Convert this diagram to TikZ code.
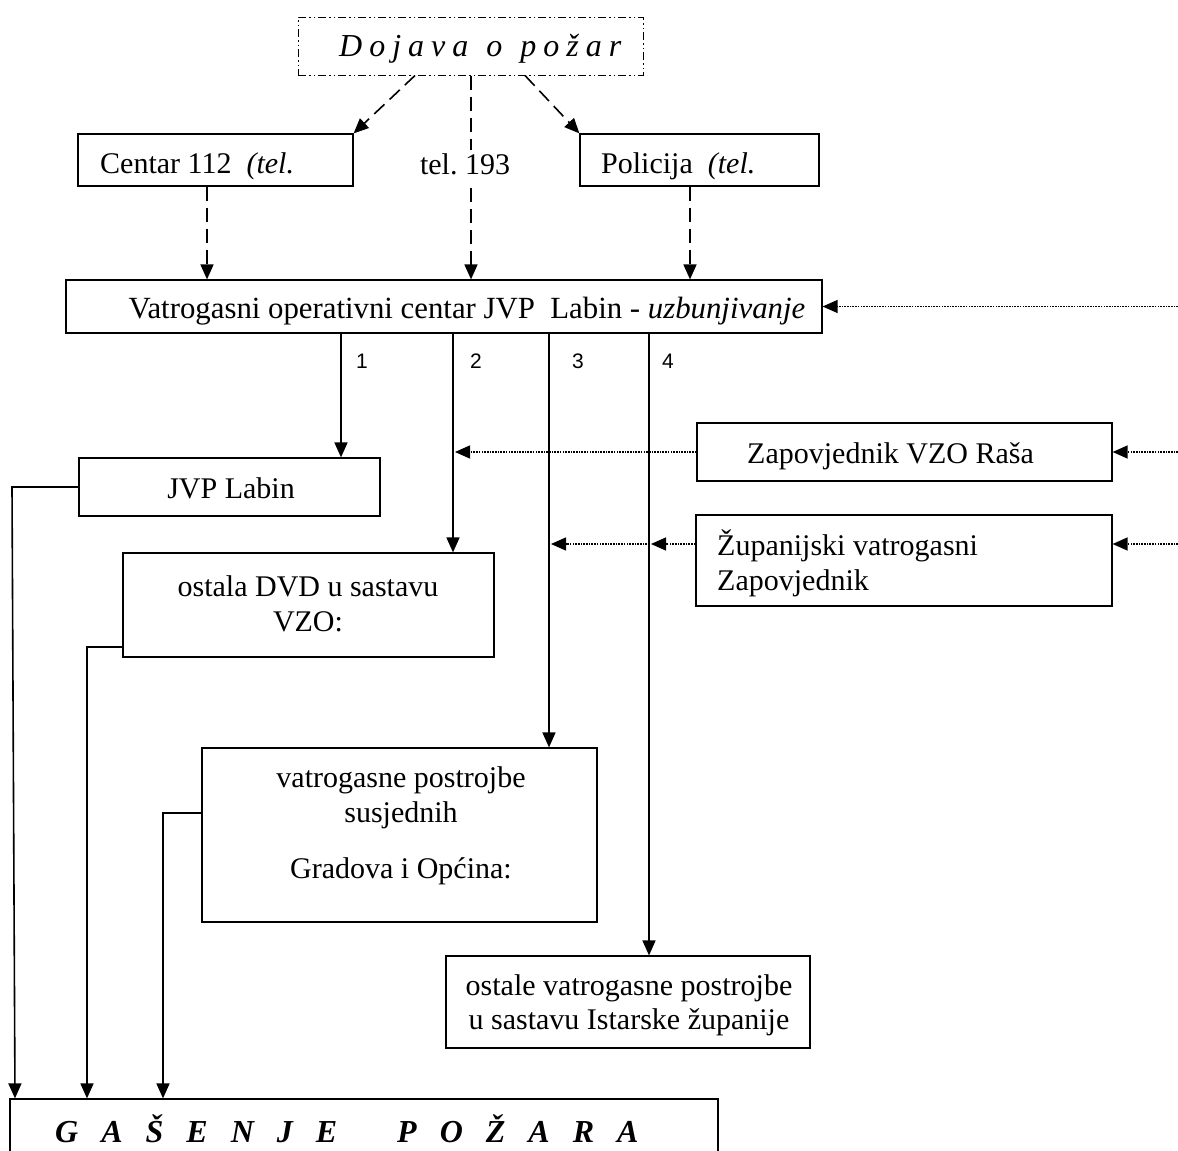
\documentclass[tikz,border=0pt]{standalone}
\usepackage{fontspec}
\setmainfont{Liberation Serif}
\newfontfamily\arialf{Liberation Sans}
\usetikzlibrary{arrows.meta}
\newcommand\gsp{\hspace{23pt}}
\newcommand\dsp{\hspace{7pt}}
\frenchspacing
\begin{document}
\begin{tikzpicture}[x=1pt,y=-1pt,
  box/.style={draw, line width=1.2pt, inner sep=0pt},
  tx/.style={font=\fontsize{30}{36}\selectfont, inner sep=0pt},
  num/.style={font=\arialf\fontsize{21}{24}\selectfont, inner sep=0pt, anchor=base},
  arr/.style={line width=1.6pt, -{Triangle[length=15pt,width=13pt]}},
  dasharr/.style={arr, dash pattern=on 14pt off 7pt},
  dashln/.style={line width=1.6pt, dash pattern=on 14pt off 7pt},
  dotarr/.style={arr, line width=1.4pt, dash pattern=on 1.6pt off 1.1pt},
  dashdot/.style={draw, line width=1pt, inner sep=0pt, dash pattern=on 8pt off 3pt on 1.5pt off 3pt on 1.5pt off 3pt}]
\useasboundingbox (0,0) rectangle (1178,1151);
% boxes
\node[dashdot, minimum width=345pt, minimum height=58pt] (doj) at (470.5,46) {};
\node[box, minimum width=275pt, minimum height=52pt] (c112) at (215.5,160) {};
\node[box, minimum width=239pt, minimum height=52pt] (pol) at (699.5,160) {};
\node[box, minimum width=756pt, minimum height=53pt] (voc) at (444,306.5) {};
\node[box, minimum width=301pt, minimum height=58pt] (jvp) at (229.5,487) {};
\node[box, minimum width=371pt, minimum height=104pt] (dvd) at (308.5,605) {};
\node[box, minimum width=415pt, minimum height=58pt] (zap) at (904.5,452) {};
\node[box, minimum width=416pt, minimum height=91pt] (zup) at (904,560.5) {};
\node[box, minimum width=395pt, minimum height=174pt] (vps) at (399.5,835) {};
\node[box, minimum width=364pt, minimum height=92pt] (ost) at (628,1002) {};
\node[box, minimum width=708pt, minimum height=71pt] (gas) at (364,1134.5) {};
% texts
\node[tx, anchor=base west, font=\fontsize{32}{36}\selectfont\itshape] (tdoj) at (339,56) {D\dsp o\dsp j\dsp a\dsp v\dsp a\hspace{18pt}o\hspace{18pt}p\dsp o\dsp ž\dsp a\dsp r};
\node[tx, anchor=base west] (tc112) at (100,173) {Centar 112~ \textit{(tel.}};
\node[tx, anchor=base] (tel) at (465,174) {tel. 193};
\node[tx, anchor=base west] (tpol) at (601,173) {Policija~ \textit{(tel.}};
\node[tx, anchor=base, font=\fontsize{30.8}{36}\selectfont] (tvoc) at (467,318) {Vatrogasni operativni centar JVP~ Labin - \textit{uzbunjivanje}};
\node[tx, anchor=base] (tjvp) at (231,498) {JVP Labin};
\node[tx, anchor=base] (tdvd1) at (308,596) {ostala DVD u sastavu};
\node[tx, anchor=base] (tdvd2) at (308,631) {VZO:};
\node[tx, anchor=base west] (tzap) at (747,463) {Zapovjednik VZO Raša};
\node[tx, anchor=base west] (tzup1) at (717,555) {Županijski vatrogasni};
\node[tx, anchor=base west] (tzup2) at (717,590) {Zapovjednik};
\node[tx, anchor=base] (tvps1) at (401,787) {vatrogasne postrojbe};
\node[tx, anchor=base] (tvps2) at (401,822) {susjednih};
\node[tx, anchor=base] (tvps3) at (401,878) {Gradova i Općina:};
\node[tx, anchor=base] (tost1) at (629,995) {ostale vatrogasne postrojbe};
\node[tx, anchor=base] (tost2) at (629,1029) {u sastavu Istarske županije};
\node[tx, anchor=base west, font=\fontsize{32}{36}\selectfont\bfseries\itshape] (tgas) at (55,1142) {G\gsp A\gsp Š\gsp E\gsp N\gsp J\gsp E\hspace{60pt}P\gsp O\gsp Ž\gsp A\gsp R\gsp A};
% numbers
\node[num] (n1) at (362,368) {1};
\node[num] (n2) at (476,368) {2};
\node[num] (n3) at (578,368) {3};
\node[num] (n4) at (668,368) {4};
% top connectors
\draw[dasharr] (415,0 |- doj.south) -- (c112.north east);
\draw[dasharr] (525,0 |- doj.south) -- (pol.north west);
\draw[dashln] (471,0 |- doj.south) -- (471,150);
\draw[dasharr] (471,188) -- (471,0 |- voc.north);
\draw[dasharr] (207,0 |- c112.south) -- (207,0 |- voc.north);
\draw[dasharr] (690,0 |- pol.south) -- (690,0 |- voc.north);
\draw[dotarr] (1178,0 |- voc.east) -- (voc.east);
% numbered lines
\draw[arr] (341,0 |- voc.south) -- (341,0 |- jvp.north);
\draw[arr] (453,0 |- voc.south) -- (453,0 |- dvd.north);
\draw[arr] (549,0 |- voc.south) -- (549,0 |- vps.north);
\draw[arr] (649,0 |- voc.south) -- (649,0 |- ost.north);
% commanders
\draw[dotarr] (1178,0 |- zap.east) -- (zap.east);
\draw[dotarr] (zap.west) -- (455,0 |- zap.west);
\draw[dotarr] (1178,544) -- ([yshift=16.5pt]zup.east);
\draw[dotarr] ([yshift=16.5pt]zup.west) -- (651,544);
\draw[dotarr] (647,544) -- (551,544);
% to firefighting
\draw[arr] (jvp.west) -- (12,0 |- jvp.west) -- (15,0 |- gas.north);
\draw[arr] ([yshift=-42pt]dvd.west) -- (87,647) -- (87,0 |- gas.north);
\draw[arr] ([yshift=22pt]vps.west) -- (163,813) -- (163,0 |- gas.north);
\end{tikzpicture}
\end{document}
